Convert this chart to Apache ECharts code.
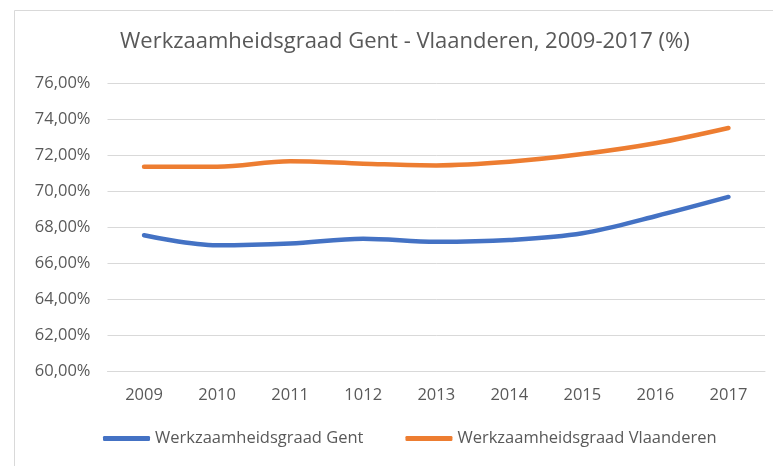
<!DOCTYPE html>
<html>
<head>
<meta charset="utf-8">
<script src="https://cdn.jsdelivr.net/npm/echarts@6/dist/echarts.min.js"></script>
<style>
html,body{margin:0;padding:0;background:#fff;}
#chart{width:773px;height:466px;}
</style>
</head>
<body>
<div id="chart"></div>
<script>
const categories = ['2009','2010','2011','1012','2013','2014','2015','2016','2017'];
const gent = [67.54, 66.98, 67.08, 67.35, 67.18, 67.28, 67.65, 68.6, 69.67];
const vlaanderen = [71.35, 71.35, 71.65, 71.52, 71.42, 71.62, 72.05, 72.65, 73.5];
const seriesNames = ['Werkzaamheidsgraad Gent', 'Werkzaamheidsgraad Vlaanderen'];
const titleText = 'Werkzaamheidsgraad Gent - Vlaanderen, 2009-2017 (%)';

const FONT = '"Open Sans", "Noto Sans", sans-serif';
const TXT = '#595959';
const chart = echarts.init(document.getElementById('chart'), null, {renderer:'canvas'});
chart.setOption({
  backgroundColor:'#fff',
  animation:false,
  graphic:[{
    type:'rect', left:12, top:8, shape:{width:800,height:500},
    style:{fill:'none', stroke:'#d9d9d9', lineWidth:1}, silent:true, z:-10
  }],
  title:{
    text:titleText, left:115, top:26,
    textStyle:{fontFamily:FONT, fontWeight:'normal', fontSize:22, color:TXT}
  },
  legend:{
    bottom:14, left:98,
    itemWidth:47, itemHeight:5, itemGap:42, icon:'roundRect',
    textStyle:{fontFamily:FONT, fontSize:16.5, color:TXT},
    data:seriesNames
  },
  grid:{left:107.5, right:8, top:83, bottom:95, containLabel:false},
  xAxis:{
    type:'category', data:categories, boundaryGap:true,
    axisLine:{show:true, lineStyle:{color:'#d9d9d9'}},
    axisTick:{show:false},
    axisLabel:{fontFamily:FONT, fontSize:16.5, color:TXT, margin:16}
  },
  yAxis:{
    type:'value', min:60, max:76, interval:2,
    axisLine:{show:false}, axisTick:{show:false},
    splitLine:{lineStyle:{color:'#d9d9d9', width:1}},
    axisLabel:{fontFamily:FONT, fontSize:16.5, color:TXT, margin:17,
      formatter:v=>v.toFixed(2).replace('.',',')+'%'}
  },
  series:[
    {name:seriesNames[0], type:'line', data:gent, smooth:0.35, showSymbol:false,
     lineStyle:{color:'#4472C4', width:4.5, cap:'round'}, itemStyle:{color:'#4472C4'}},
    {name:seriesNames[1], type:'line', data:vlaanderen, smooth:0.35, showSymbol:false,
     lineStyle:{color:'#ED7D31', width:4.5, cap:'round'}, itemStyle:{color:'#ED7D31'}}
  ]
});
</script>
</body>
</html>
